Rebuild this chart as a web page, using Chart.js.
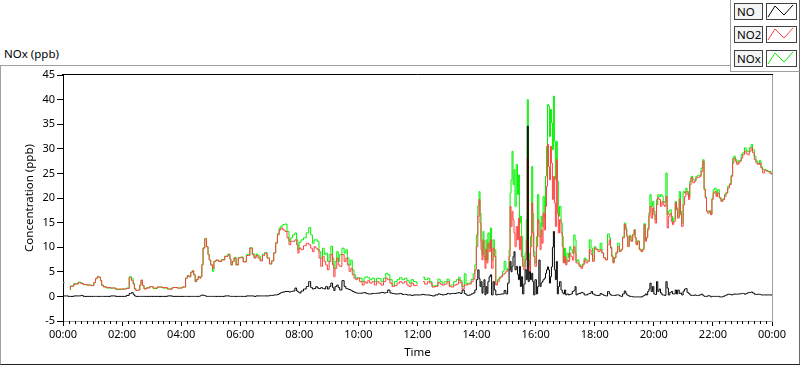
<!DOCTYPE html>
<html>
<head>
<meta charset="utf-8">
<title>NOx (ppb)</title>
<script src="https://cdn.jsdelivr.net/npm/chart.js@4.4.1/dist/chart.umd.min.js"></script>
<style>
  html, body { margin: 0; padding: 0; background: #fff; }
  body { width: 800px; height: 365px; position: relative; overflow: hidden; font-family: 'Noto Sans', sans-serif; color: #000; }
  #frame { position: absolute; left: 0; top: 65px; width: 800px; height: 300px; box-sizing: border-box;
           border-top: 1px solid #a0a0a0; border-left: 1px solid #a0a0a0;
           border-right: 1px solid #696969; border-bottom: 1px solid #202020; }
  #graphTitle { position: absolute; left: 4px; top: 46px; font-size: 11.5px; line-height: 15px; }
  #legend { position: absolute; left: 730px; top: 0; width: 70px; height: 72px; box-sizing: border-box; background: #fff;
            border-left: 1px solid #a0a0a0; border-bottom: 1px solid #a0a0a0; border-right: 1px solid #696969; }
  .lg-row { position: absolute; left: 3px; width: 64px; height: 17px; }
  .lg-name { position: absolute; left: 0; top: 0; width: 29px; height: 17px; box-sizing: border-box;
             border: 1px solid #404040; background: #f4f4f4; font-size: 11.5px; line-height: 15px; padding-left: 2px; }
  .lg-swatch { position: absolute; left: 32px; top: 0; width: 31px; height: 17px; box-sizing: border-box;
               border: 1px solid #404040; background: #fff; }
  .lg-swatch svg { position: absolute; left: 0; top: 0; }
  #graph { position: absolute; left: 0; top: 0; }
</style>
</head>
<body>
<div id="frame"></div>
<div id="graphTitle">NOx (ppb)</div>
<div id="legend"></div>
<canvas id="graph" width="800" height="365"></canvas>

<script>
// NOx analyser trace, one day. Time is minutes after midnight, values in ppb.
// null = analyser gap (no NO2/NOx reading).

const seriesNames  = ['NO', 'NO2', 'NOx'];
const seriesColors = ['#000000', '#ff4040', '#00f000'];

const yTicks     = { min: -5, max: 45, step: 5 };
const majorStep  = 120;   // labelled ticks every 2 h
const minorStep  = 12;    // small ticks between

const timeMin = [
  0, 3, 7, 14, 16, 28, 34, 38, 44, 54,
  61, 64, 68, 71, 75, 77, 80, 85, 91, 102,
  112, 125, 132, 137, 141, 144, 146, 150, 155, 157,
  160, 163, 166, 173, 180, 186, 197, 207, 217, 227,
  237, 247, 251, 254, 258, 261, 264, 267, 270, 272,
  277, 279, 281, 283, 286, 290, 293, 296, 298, 302,
  305, 308, 313, 319, 325, 332, 338, 340, 342, 346,
  349, 354, 358, 363, 369, 376, 383, 386, 390, 394,
  398, 403, 407, 412, 417, 422, 426, 430, 434, 437,
  441, 444, 449, 453, 457, 461, 464, 469, 473, 476,
  478, 481, 486, 491, 497, 501, 505, 508, 512, 515,
  518, 522, 525, 529, 532, 535, 539, 542, 546, 549,
  551, 554, 558, 560, 564, 569, 573, 576, 579, 583,
  586, 589, 593, 596, 600, 605, 610, 613, 617, 621,
  625, 630, 635, 639, 644, 648, 654, 657, 662, 666,
  671, 676, 681, 686, 691, 696, 701, 705, 709, 715,
  721, 726, 731, 738, 743, 747, 752, 759, 764, 768,
  772, 777, 783, 786, 791, 796, 802, 805, 808, 813,
  817, 820, 823, 827, 831, 835, 838, 841, 844, 846,
  848, 850, 852, 854, 856, 858, 860, 862, 864, 867,
  869, 872, 875, 877, 881, 884, 888, 891, 894, 898,
  901, 905, 907, 909, 911, 913, 915, 917, 919, 922,
  924, 926, 928, 930, 932, 935, 937, 940, 942, 944,
  946, 948, 951, 953, 955, 957, 960, 963, 965, 968,
  970, 972, 974, 976, 979, 981, 983, 985, 987, 989,
  991, 993, 995, 997, 999, 1001, 1003, 1005, 1007, 1010,
  1013, 1015, 1017, 1020, 1022, 1025, 1028, 1030, 1033, 1036,
  1039, 1041, 1043, 1046, 1050, 1054, 1057, 1060, 1064, 1067,
  1071, 1074, 1077, 1081, 1084, 1089, 1093, 1096, 1100, 1104,
  1108, 1111, 1113, 1116, 1118, 1121, 1125, 1128, 1132, 1135,
  1138, 1142, 1144, 1146, 1148, 1152, 1155, 1159, 1161, 1163,
  1165, 1169, 1172, 1176, 1179, 1181, 1184, 1186, 1189, 1191,
  1193, 1196, 1199, 1201, 1204, 1207, 1209, 1212, 1215, 1218,
  1220, 1223, 1226, 1228, 1231, 1234, 1237, 1239, 1242, 1245,
  1247, 1250, 1253, 1255, 1258, 1261, 1264, 1266, 1269, 1272,
  1274, 1277, 1281, 1284, 1287, 1291, 1294, 1298, 1301, 1303,
  1306, 1308, 1311, 1314, 1317, 1319, 1322, 1325, 1328, 1331,
  1335, 1338, 1342, 1345, 1348, 1352, 1355, 1359, 1361, 1364,
  1367, 1370, 1373, 1376, 1379, 1382, 1386, 1389, 1392, 1396,
  1399, 1402, 1406, 1409, 1413, 1416, 1419, 1423, 1426, 1430,
  1433, 1436, 1440
];

const noPpb = [
  0.0, 0.1, 0.1, 0.0, 0.0, 0.1, 0.1, 0.2, 0.0, 0.0,
  0.0, 0.0, 0.0, 0.0, 0.0, 0.0, 0.0, 0.0, 0.0, 0.1,
  0.0, 0.0, 0.2, 0.6, 0.8, 0.4, 0.1, 0.0, 0.0, 0.0,
  0.0, 0.0, 0.0, 0.0, 0.0, 0.0, 0.0, 0.0, 0.1, 0.0,
  0.0, 0.0, 0.0, 0.0, 0.0, 0.0, 0.0, 0.0, 0.0, 0.0,
  0.0, 0.1, 0.2, 0.3, 0.2, 0.1, 0.0, 0.0, 0.0, 0.0,
  0.0, 0.0, 0.0, 0.0, 0.0, 0.1, 0.1, 0.0, 0.0, 0.0,
  0.0, 0.0, 0.0, 0.0, 0.0, 0.1, 0.1, 0.1, 0.0, 0.1,
  0.1, 0.1, 0.1, 0.1, 0.1, 0.2, 0.2, 0.3, 0.3, 0.4,
  0.6, 0.8, 0.9, 1.0, 1.0, 0.9, 1.0, 1.1, 1.7, 1.1,
  0.9, 0.7, 1.1, 1.5, 2.0, 3.0, 1.8, 1.5, 1.6, 2.0,
  1.7, 1.6, 1.8, 1.6, 1.5, 2.0, 1.5, 2.0, 2.7, 1.8,
  1.2, 2.0, 2.3, 1.8, 1.3, 3.2, 2.0, 1.6, 1.5, 1.4,
  1.2, 1.0, 0.85, 0.7, 0.65, 0.65, 0.7, 0.8, 0.6, 0.5,
  0.5, 0.6, 0.6, 0.65, 0.7, 0.8, 0.7, 0.8, 1.3, 0.7,
  0.6, 0.5, 0.5, 0.6, 0.4, 0.4, 0.3, 0.3, 0.2, 0.3,
  0.3, 0.3, 0.4, 0.3, 0.3, 0.2, 0.1, 0.3, 0.5, 0.4,
  0.3, 0.4, 0.6, 0.5, 0.6, 0.6, 0.7, 0.8, 0.6, 1.3,
  0.6, 0.3, 0.2, 0.3, 0.5, 0.7, 1.3, 3.4, 5.4, 3.6,
  2.0, 3.0, 0.65, 2.0, 3.4, 0.3, 2.0, 0.6, 3.0, 4.0,
  4.4, 0.3, 3.0, 1.3, 0.3, 0.4, 0.4, 0.5, 0.5, 1.2,
  0.5, 2.7, 5.4, 7.1, 5.0, 6.1, 8.1, 9.1, 5.4, 6.1,
  4.5, 3.4, 6.1, 2.0, 4.0, 0.5, 2.5, 5.4, 3.4, 34.6,
  3.0, 5.0, 3.4, 4.7, 3.0, 0.3, 3.4, 0.5, 2.0, 7.4,
  2.0, 2.7, 3.0, 3.4, 3.7, 4.7, 5.4, 6.0, 5.4, 2.7,
  4.0, 6.0, 10.0, 13.2, 5.4, 3.4, 7.1, 0.5, 2.0, 3.0,
  1.3, 0.8, 0.5, 1.3, 0.3, 0.5, 0.3, 0.4, 0.5, 1.0,
  1.2, 2.0, 0.3, 0.5, 0.6, 0.8, 0.7, 0.3, 0.3, 0.5,
  0.6, 1.0, 0.5, 0.3, 0.2, 0.2, 0.6, 0.4, 0.2, 0.1,
  1.0, 0.5, 0.3, 0.2, 0.2, 0.2, 0.3, 0.3, 0.1, 0.0,
  0.5, 1.1, 0.6, 0.3, 0.2, 0.0, 0.0, -0.1, -0.1, -0.1,
  -0.1, -0.1, -0.1, -0.1, 0.1, 0.2, 0.5, 0.3, 1.0, 1.5,
  2.7, 1.0, 2.0, 0.5, 0.4, 3.0, 1.0, 1.5, 0.7, 0.3,
  0.3, 0.2, 3.0, 1.7, 0.3, 0.8, 1.0, 0.5, 0.5, 1.3,
  0.5, 1.3, 0.6, 0.7, 0.3, 1.1, 1.5, 1.6, 0.8, 0.6,
  0.3, 0.2, 0.2, 0.3, 0.2, 0.2, 0.3, 0.45, 0.2, 0.0,
  0.0, 0.0, 0.15, 0.1, -0.1, 0.0, 0.0, 0.0, 0.0, 0.0,
  -0.1, -0.1, 0.0, 0.15, 0.3, 0.45, 0.4, 0.3, 0.4, 0.5,
  0.45, 0.45, 0.5, 0.5, 0.6, 0.6, 0.45, 0.6, 0.75, 0.8,
  0.9, 0.7, 0.45, 0.4, 0.45, 0.4, 0.3, 0.3, 0.3, 0.3,
  0.3, 0.3, 0.3
];

const no2Ppb = [
  2.8, 2.8, null, 1.6, 2.1, 2.5, 2.8, 2.6, 2.4, 2.3,
  2.2, 2.8, 3.6, 4.0, 3.9, 3.2, 2.2, 1.9, 1.8, 1.7,
  1.5, 1.5, 1.6, 3.8, 3.2, 2.5, 1.5, 1.2, 1.3, 2.3,
  3.3, 2.2, 1.5, 1.7, 2.0, 1.7, 1.9, 1.8, 1.5, 1.8,
  1.7, 1.9, 3.7, 4.2, 4.0, 4.9, 5.2, 4.4, 3.0, 3.4,
  4.0, 3.7, 4.0, 6.4, 9.8, 11.7, 10.1, 8.5, 7.4, 6.4,
  5.7, 7.1, 7.4, 7.1, 7.4, 8.1, 8.5, 7.6, 6.4, 7.1,
  7.8, 6.4, 7.8, 7.9, 7.0, 8.3, 9.8, 8.5, 7.8, 8.3,
  7.8, 7.2, 8.3, 8.8, 7.8, 6.6, 7.2, 8.8, 10.8, 12.5,
  13.5, 13.9, 13.5, 13.2, 11.9, 10.5, 11.2, 11.2, 11.5, 10.5,
  8.8, 9.8, 9.5, 10.3, 10.8, 10.5, 9.8, 9.1, 10.1, 9.8,
  9.5, 7.8, 6.1, 8.1, 7.1, 6.4, 5.4, 7.1, 8.5, 6.4,
  4.0, 5.7, 7.8, 6.4, 6.1, 8.5, 7.1, 7.8, 6.4, 5.1,
  5.7, 4.4, 3.7, 3.4, 3.7, 3.0, 2.3, 3.0, 2.7, 3.2,
  2.7, 3.0, 2.3, 3.0, 2.7, 2.3, 3.0, 3.7, 3.4, 2.7,
  2.0, 2.2, 2.7, 3.0, 2.7, 3.0, 2.3, 2.0, 2.7, 2.2,
  2.3, null, 3.0, 2.5, 3.0, 2.7, 1.9, 2.0, 2.8, 2.5,
  2.3, 2.5, 3.0, 2.0, 1.9, 2.3, 2.5, 3.4, 2.8, 1.5,
  2.3, 2.3, 2.5, 2.5, 3.0, 3.5, 5.4, 10.1, 16.3, 19.7,
  14.9, 9.5, 7.4, 11.5, 8.1, 5.7, 9.5, 6.8, 10.8, 9.1,
  11.5, 5.7, 9.8, 8.1, 2.3, 3.0, 3.7, 4.0, 4.4, 4.7,
  5.1, 5.4, 8.1, 18.3, 14.2, 17.3, 15.6, 12.9, 10.1, 14.2,
  11.5, 15.9, 9.5, 12.2, 8.1, 6.1, 5.4, 7.4, 11.5, 28.1,
  7.4, 4.7, 10.1, 19.0, 12.9, 8.1, 6.1, 10.1, 15.6, 12.2,
  9.5, 13.5, 10.8, 16.9, 13.5, 18.3, 22.4, 30.9, 26.4, 23.7,
  30.5, 27.1, 19.7, 24.4, 19.0, 14.2, 27.8, 16.9, 12.9, 15.6,
  12.9, 10.1, 6.8, 8.1, 6.4, 7.4, 7.1, 8.8, 8.1, 7.4,
  10.1, 8.8, 6.8, 6.8, 6.1, 5.7, 6.4, 7.4, 6.8, 7.1,
  9.5, 8.5, 7.1, 9.8, 9.5, 9.1, 9.5, 8.8, 7.8, 7.4,
  10.5, 11.5, 9.8, 8.1, 6.8, 7.8, 8.8, 10.1, 9.1, 9.5,
  11.9, 14.6, 13.5, 12.2, 10.1, 12.2, 11.2, 12.5, 13.5, 11.9,
  10.5, 11.2, 9.5, 9.1, 9.5, 14.6, 11.2, 11.9, 13.5, 16.4,
  18.3, 15.9, 18.0, 16.6, 14.9, 18.6, 20.1, 19.7, 18.3, 19.3,
  18.6, 18.3, 20.3, 13.9, 16.3, 16.9, 15.2, 14.6, 15.2, 19.0,
  17.6, 15.9, 19.7, 16.6, 14.2, 18.6, 20.3, 21.3, 20.7, 19.7,
  22.7, 24.1, 23.1, 23.4, 24.1, 24.2, 24.4, 25.4, 27.5, 21.7,
  20.0, 17.3, 16.9, 17.3, 16.6, 19.7, 21.0, 21.3, 20.3, 21.0,
  20.0, 19.3, 19.7, 20.3, 21.0, 22.0, 22.7, 24.4, 27.1, 28.1,
  27.5, 26.8, 27.1, 27.5, 28.1, 28.8, 29.5, 29.0, 28.8, 29.5,
  30.2, 29.2, 27.8, 27.1, 26.8, 27.1, 26.1, 25.1, 25.6, 25.5,
  25.4, 25.1, 24.9
];

const noxPpb = [
  2.8, 2.8, null, 1.3, 2.1, 2.6, 2.9, 2.7, 2.4, 2.3,
  2.2, 2.8, 3.6, 4.0, 3.9, 3.3, 2.3, 2.0, 1.7, 1.7,
  1.4, 1.5, 1.7, 4.0, 3.6, 2.7, 1.6, 1.2, 1.3, 2.3,
  3.3, 2.2, 1.6, 1.8, 2.0, 1.6, 1.9, 1.7, 1.5, 1.8,
  1.7, 1.9, 3.7, 4.2, 4.0, 4.9, 5.2, 4.4, 3.0, 3.4,
  4.0, 3.8, 4.1, 6.5, 9.9, 11.8, 10.1, 8.5, 7.4, 6.4,
  5.1, 7.1, 7.3, 7.2, 7.5, 8.2, 8.6, 7.6, 6.4, 7.1,
  7.9, 6.4, 7.9, 8.0, 7.1, 8.5, 9.9, 8.7, 7.9, 8.6,
  8.2, 7.4, 8.6, 8.9, 7.8, 6.6, 7.3, 8.9, 11.0, 12.8,
  13.9, 14.3, 14.6, 14.7, 13.2, 11.2, 11.9, 12.5, 12.9, 11.5,
  9.5, 11.0, 11.5, 11.9, 12.9, 14.0, 12.5, 10.8, 11.5, 11.5,
  11.2, 9.1, 7.8, 9.8, 8.5, 8.8, 7.1, 8.5, 10.2, 7.8,
  5.7, 7.1, 9.1, 7.1, 8.5, 9.8, 8.8, 9.5, 7.8, 6.4,
  7.4, 5.4, 4.4, 3.7, 3.8, 3.7, 3.0, 3.8, 4.0, 3.8,
  3.4, 3.7, 3.0, 3.7, 3.6, 3.0, 3.7, 4.7, 4.4, 3.4,
  2.3, 3.0, 3.4, 3.8, 3.4, 3.7, 3.2, 2.7, 3.4, 3.0,
  2.7, null, 3.9, 3.4, 3.7, 3.0, 2.1, 2.2, 3.5, 3.0,
  2.7, 3.0, 3.5, 2.3, 2.3, 3.0, 3.4, 3.9, 3.2, 2.0,
  4.6, 2.5, 2.7, 2.7, 3.5, 4.6, 6.4, 12.5, 18.4, 21.3,
  16.9, 11.2, 8.5, 13.2, 9.8, 7.4, 11.5, 7.4, 12.9, 9.8,
  13.9, 7.4, 11.5, 9.5, 2.5, 3.4, 3.9, 4.1, 5.1, 7.1,
  5.4, 5.7, 9.5, 21.0, 23.7, 29.5, 22.7, 25.8, 18.3, 26.8,
  20.7, 24.7, 14.9, 16.3, 12.2, 8.1, 6.1, 8.8, 15.6, 40.0,
  8.8, 6.1, 12.2, 26.4, 16.9, 9.1, 6.8, 12.2, 20.7, 14.9,
  12.2, 16.3, 14.2, 20.3, 15.9, 24.4, 30.5, 39.0, 38.7, 32.5,
  38.0, 35.3, 29.8, 40.7, 31.5, 23.7, 31.5, 23.4, 16.3, 18.3,
  14.9, 12.2, 7.1, 9.8, 6.8, 8.8, 7.8, 10.1, 9.5, 8.8,
  12.5, 11.5, 7.1, 7.4, 6.4, 6.1, 6.6, 7.8, 7.4, 7.3,
  11.5, 9.8, 7.4, 10.1, 9.6, 9.5, 10.8, 8.9, 7.9, 7.5,
  12.7, 11.9, 10.1, 8.3, 7.0, 7.9, 9.0, 10.8, 9.2, 9.6,
  12.1, 14.9, 13.9, 12.3, 10.3, 12.4, 11.3, 12.6, 13.6, 12.0,
  10.6, 11.3, 9.6, 9.3, 9.6, 14.8, 11.5, 12.0, 13.9, 17.0,
  20.7, 18.3, 19.3, 17.3, 15.6, 19.7, 20.7, 20.3, 20.7, 20.3,
  19.0, 19.3, 25.1, 16.6, 17.3, 17.6, 16.3, 15.2, 15.9, 19.3,
  18.0, 16.2, 21.3, 17.3, 14.9, 21.3, 21.0, 22.0, 21.3, 20.3,
  23.4, 24.4, 23.7, 23.6, 24.4, 24.6, 24.6, 26.1, 27.8, 21.9,
  20.2, 17.4, 17.3, 17.4, 16.7, 19.9, 21.7, 22.0, 20.5, 21.7,
  20.1, 19.4, 19.8, 20.7, 21.1, 22.4, 22.9, 24.6, 28.1, 28.5,
  27.8, 27.1, 27.6, 27.6, 28.8, 29.2, 30.2, 29.6, 29.4, 30.2,
  30.9, 29.8, 28.5, 27.5, 27.0, 27.6, 26.3, 25.8, 25.8, 25.6,
  25.4, 25.4, 24.9
];

// ── Legend (LabVIEW-style plot legend, top right) ────────────────
function renderLegend() {
  const el = document.getElementById('legend');
  const tops = [3, 26, 50];
  el.innerHTML = seriesNames.map((name, i) => `
    <div class="lg-row" style="top:${tops[i]}px">
      <div class="lg-name">${name}</div>
      <div class="lg-swatch">
        <svg width="29" height="15" viewBox="0 0 29 15">
          <polyline points="1,13 8,2 17,11 26,1" fill="none" stroke="${seriesColors[i]}" stroke-width="1"/>
        </svg>
      </div>
    </div>`).join('');
}

// ── Plot frame + minor time ticks ────────────────────────────────
const frameAndMinorTicks = {
  id: 'frameAndMinorTicks',
  afterDraw(chart) {
    const { ctx, chartArea: a, scales: { x } } = chart;
    ctx.save();
    ctx.lineWidth = 1;

    // minor ticks under the time axis
    ctx.strokeStyle = '#000';
    ctx.beginPath();
    for (let m = 0; m <= 1440; m += minorStep) {
      if (m % majorStep === 0) continue;
      const px = Math.round(x.getPixelForValue(m)) + 0.5;
      ctx.moveTo(px, a.bottom);
      ctx.lineTo(px, a.bottom + 3);
    }
    ctx.stroke();

    // top edge dark, right edge light
    ctx.beginPath();
    ctx.moveTo(a.left - 1, Math.round(a.top) - 0.5);
    ctx.lineTo(a.right + 1, Math.round(a.top) - 0.5);
    ctx.stroke();
    ctx.strokeStyle = '#a0a0a0';
    ctx.beginPath();
    ctx.moveTo(Math.round(a.right) + 0.5, a.top);
    ctx.lineTo(Math.round(a.right) + 0.5, a.bottom);
    ctx.stroke();
    ctx.restore();
  }
};

// ── Chart ────────────────────────────────────────────────────────
function renderChart() {
  const tickFont  = { family: "'Noto Sans', sans-serif", size: 11 };
  const titleFont = { family: "'Noto Sans', sans-serif", size: 11.5 };
  const toPts = vals => timeMin.map((t, i) => ({ x: t, y: vals[i] }));
  const series = [noPpb, no2Ppb, noxPpb];

  new Chart(document.getElementById('graph'), {
    type: 'line',
    data: {
      // first dataset is painted last, so NO sits on top and NOx underneath
      datasets: seriesNames.map((name, i) => ({
        label: name,
        data: toPts(series[i]),
        borderColor: seriesColors[i],
        borderWidth: 1,
        pointRadius: 0,
        stepped: 'middle',   // logger samples look blocky, like the LabVIEW trace
        spanGaps: false,
        fill: false,
      }))
    },
    options: {
      responsive: false,
      animation: false,
      layout: { padding: { top: 75, right: 28, left: 0, bottom: 0 } },
      plugins: { legend: { display: false }, tooltip: { enabled: false } },
      scales: {
        x: {
          type: 'linear',
          min: 0, max: 1440,
          afterFit: s => { s.height = 44; },
          ticks: {
            stepSize: majorStep,
            autoSkip: false,
            maxRotation: 0,
            padding: 2,
            color: '#000',
            font: tickFont,
            callback: v => String((v / 60) % 24).padStart(2, '0') + ':00',
          },
          grid: { drawOnChartArea: false, tickLength: 5, tickColor: '#000' },
          border: { color: '#a0a0a0' },
          title: { display: true, text: 'Time', color: '#000', font: titleFont, padding: { top: 0, bottom: 5 } },
        },
        y: {
          min: yTicks.min, max: yTicks.max,
          afterFit: s => { s.width = 63; },
          ticks: { stepSize: yTicks.step, padding: 2, color: '#000', font: tickFont },
          grid: { drawOnChartArea: false, tickLength: 6, tickColor: '#000' },
          border: { color: '#000' },
          title: { display: true, text: 'Concentration (ppb)', color: '#000', font: titleFont, padding: { top: 23, bottom: 0 } },
        }
      }
    },
    plugins: [frameAndMinorTicks]
  });
}

renderLegend();
renderChart();
</script>
</body>
</html>
